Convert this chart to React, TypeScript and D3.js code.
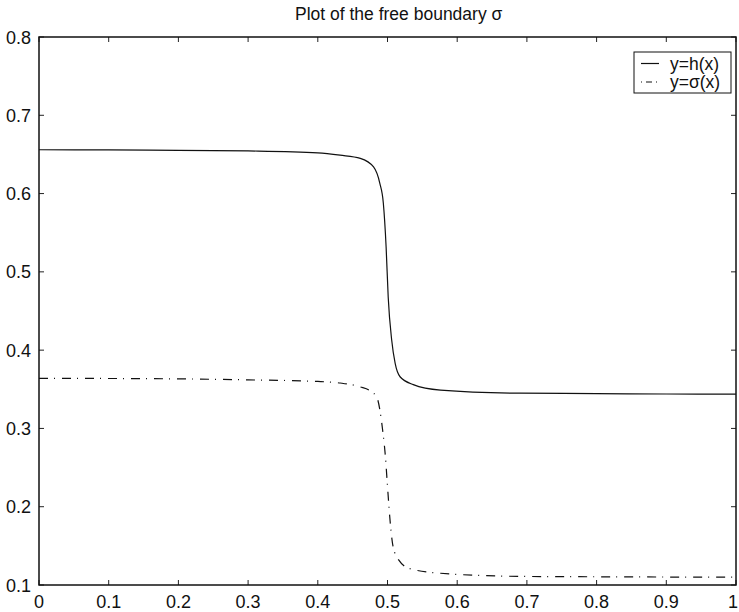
import React from "react";
import * as d3 from "d3";

// Solution profiles of the free-boundary problem
const hX = [0, 0.1, 0.2, 0.3, 0.4, 0.432, 0.461, 0.48, 0.489, 0.494, 0.498, 0.501, 0.506, 0.511, 0.518, 0.537, 0.576, 0.69, 0.8, 0.9, 1];
const hY = [0.656, 0.6557, 0.6553, 0.6545, 0.652, 0.649, 0.645, 0.634, 0.613, 0.588, 0.532, 0.468, 0.413, 0.383, 0.366, 0.356, 0.349, 0.345, 0.3445, 0.344, 0.3438];

const sX = [0, 0.1, 0.231, 0.3, 0.4, 0.432, 0.461, 0.475, 0.485, 0.489, 0.493, 0.497, 0.5, 0.504, 0.508, 0.516, 0.532, 0.576, 0.69, 0.8, 0.9, 1];
const sY = [0.364, 0.3638, 0.363, 0.362, 0.36, 0.358, 0.353, 0.348, 0.339, 0.324, 0.298, 0.264, 0.226, 0.179, 0.149, 0.132, 0.121, 0.115, 0.111, 0.1105, 0.1102, 0.11];

const xTicks = [0, 0.1, 0.2, 0.3, 0.4, 0.5, 0.6, 0.7, 0.8, 0.9, 1];
const yTicks = [0.1, 0.2, 0.3, 0.4, 0.5, 0.6, 0.7, 0.8];
const tickLabelsX = ["0", "0.1", "0.2", "0.3", "0.4", "0.5", "0.6", "0.7", "0.8", "0.9", "1"];
const tickLabelsY = ["0.1", "0.2", "0.3", "0.4", "0.5", "0.6", "0.7", "0.8"];

const legendLabels = ["y=h(x)", "y=σ(x)"];

const W = 739;
const H = 612;
const L = 39, R = 736, T = 37, B = 585;
const FONT = "'Liberation Sans', Arial, Helvetica, sans-serif";

export default function App() {
  const x = d3.scaleLinear().domain([0, 1]).range([L, R]);
  const y = d3.scaleLinear().domain([0.1, 0.8]).range([B, T]);
  const line = d3
    .line<[number, number]>()
    .x((d) => x(d[0]))
    .y((d) => y(d[1]))
    .curve(d3.curveMonotoneX);

  const hData = hX.map((v, i) => [v, hY[i]] as [number, number]);
  const sData = sX.map((v, i) => [v, sY[i]] as [number, number]);
  const tk = 5;

  return (
    <svg
      width={W}
      height={H}
      style={{ position: "absolute", left: 0, top: 0, background: "#fff" }}
      fontFamily={FONT}
    >
      <rect x={0} y={0} width={W} height={H} fill="#fff" />
      <text x={295} y={20} textAnchor="start" fontSize={17.5} fill="#111">
        Plot of the free boundary σ
      </text>

      {/* curves */}
      <path d={line(hData) || ""} fill="none" stroke="#111" strokeWidth={1.2} />
      <path
        d={line(sData) || ""}
        fill="none"
        stroke="#111"
        strokeWidth={1.2}
        strokeDasharray="9,6,1,7"
      />

      {/* ticks on all four sides */}
      {xTicks.map((t, i) => (
        <g key={"xt" + i}>
          <line x1={x(t)} x2={x(t)} y1={B} y2={B - tk} stroke="#222" />
          <line x1={x(t)} x2={x(t)} y1={T} y2={T + tk} stroke="#222" />
          <text
            x={Math.min(x(t), W - 6)}
            y={B + 23}
            textAnchor="middle"
            fontSize={18}
            fill="#111"
          >
            {tickLabelsX[i]}
          </text>
        </g>
      ))}
      {yTicks.map((t, i) => (
        <g key={"yt" + i}>
          <line x1={L} x2={L + tk} y1={y(t)} y2={y(t)} stroke="#222" />
          <line x1={R} x2={R - tk} y1={y(t)} y2={y(t)} stroke="#222" />
          <text
            x={L - 8}
            y={y(t) + 6.5}
            textAnchor="end"
            fontSize={18}
            fill="#111"
          >
            {tickLabelsY[i]}
          </text>
        </g>
      ))}

      {/* frame */}
      <rect x={L} y={T} width={R - L} height={B - T} fill="none" stroke="#111" strokeWidth={1.5} />

      {/* legend */}
      <rect x={634} y={52} width={97} height={41} fill="#fff" stroke="#111" strokeWidth={1} />
      {legendLabels.map((lab, i) => (
        <g key={"lg" + i}>
          <line
            x1={641}
            x2={659}
            y1={63.5 + i * 18.5}
            y2={63.5 + i * 18.5}
            stroke="#111"
            strokeWidth={1.2}
            strokeDasharray={i === 1 ? "1,4,6,4" : undefined}
          />
          <text x={670} y={69.5 + i * 18.5} fontSize={17.5} fill="#111">
            {lab}
          </text>
        </g>
      ))}
    </svg>
  );
}
